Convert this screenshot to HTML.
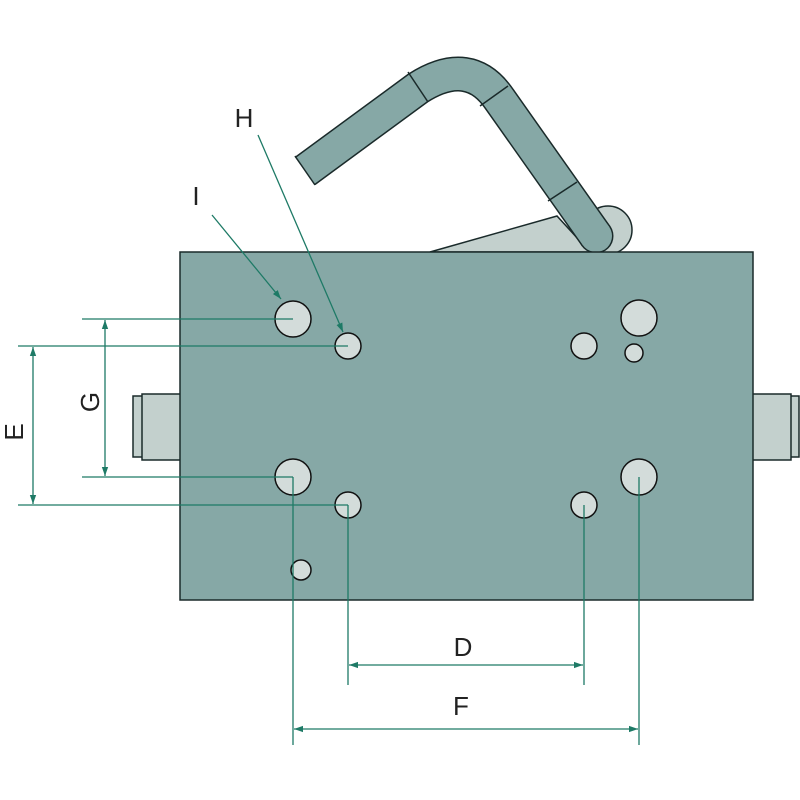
<!DOCTYPE html>
<html><head><style>body{margin:0;background:#fff}svg{display:block}</style></head><body>
<svg width="800" height="800" viewBox="0 0 800 800" xmlns="http://www.w3.org/2000/svg" font-family="Liberation Sans, sans-serif">
<defs>
<marker id="a" viewBox="0 0 10 10" refX="10" refY="5" markerWidth="9" markerHeight="9" orient="auto-start-reverse" markerUnits="userSpaceOnUse"><path d="M0,1.5 L10,5 L0,8.5 z" fill="#1e7a66"/></marker>
</defs>
<!-- pin & wedge -->
<circle cx="608" cy="230" r="24" fill="#c3d0cd" stroke="#1a2a2a" stroke-width="1.5"/>
<polygon points="430,252 557,216 590,252" fill="#c3d0cd" stroke="#1a2a2a" stroke-width="1.5"/>
<!-- handle -->
<path d="M305,171 L418,88 Q470,55 500,100 L596,236" fill="none" stroke="#1a2a2a" stroke-width="35" stroke-linejoin="round"/>
<circle cx="596" cy="236" r="17.5" fill="#1a2a2a"/>
<path d="M305,171 L418,88 Q470,55 500,100 L596,236" fill="none" stroke="#86a8a6" stroke-width="32" stroke-linejoin="round"/>
<circle cx="596" cy="236" r="16" fill="#86a8a6"/>
<line x1="295" y1="156" x2="315" y2="185" stroke="#1a2a2a" stroke-width="1.5"/>
<line x1="408" y1="72" x2="428" y2="102" stroke="#1a2a2a" stroke-width="1.5"/>
<line x1="480" y1="106" x2="508" y2="86" stroke="#1a2a2a" stroke-width="1.5"/>
<line x1="548" y1="201" x2="577" y2="182" stroke="#1a2a2a" stroke-width="1.5"/>
<!-- side bosses -->
<rect x="133" y="396" width="12" height="61" fill="#c3d0cd" stroke="#1a2a2a" stroke-width="1.5"/>
<rect x="142" y="394" width="40" height="66" fill="#c3d0cd" stroke="#1a2a2a" stroke-width="1.5"/>
<rect x="787" y="396" width="12" height="61" fill="#c3d0cd" stroke="#1a2a2a" stroke-width="1.5"/>
<rect x="751" y="394" width="40" height="66" fill="#c3d0cd" stroke="#1a2a2a" stroke-width="1.5"/>
<!-- block -->
<rect x="180" y="252" width="573" height="348" fill="#86a8a6" stroke="#1a2a2a" stroke-width="1.5"/>
<g fill="#d3dcda" stroke="#111" stroke-width="1.5">
<circle cx="293" cy="319" r="18"/><circle cx="348" cy="346" r="13"/>
<circle cx="293" cy="477" r="18"/><circle cx="348" cy="505" r="13"/>
<circle cx="301" cy="570" r="10"/><circle cx="639" cy="318" r="18"/>
<circle cx="584" cy="346" r="13"/><circle cx="634" cy="353" r="9"/>
<circle cx="639" cy="477" r="18"/><circle cx="584" cy="505" r="13"/>
</g>
<!-- dims -->
<g stroke="#1e7a66" stroke-width="1.3" fill="none">
<line x1="82" y1="319" x2="293" y2="319"/><line x1="18" y1="346" x2="348" y2="346"/>
<line x1="82" y1="477" x2="293" y2="477"/><line x1="18" y1="505" x2="348" y2="505"/>
<line x1="293" y1="477" x2="293" y2="745"/><line x1="348" y1="505" x2="348" y2="685"/>
<line x1="584" y1="505" x2="584" y2="685"/><line x1="639" y1="477" x2="639" y2="745"/>
<line x1="105" y1="320" x2="105" y2="476" marker-start="url(#a)" marker-end="url(#a)"/>
<line x1="33" y1="347" x2="33" y2="504" marker-start="url(#a)" marker-end="url(#a)"/>
<line x1="349" y1="665" x2="583" y2="665" marker-start="url(#a)" marker-end="url(#a)"/>
<line x1="294" y1="729" x2="638" y2="729" marker-start="url(#a)" marker-end="url(#a)"/>
<line x1="258" y1="135" x2="343" y2="332" marker-end="url(#a)"/>
<line x1="212" y1="215" x2="281" y2="299" marker-end="url(#a)"/>
</g>
<g font-size="26" fill="#222" text-anchor="middle">
<text x="244" y="127">H</text><text x="196" y="205">I</text>
<text x="463" y="656">D</text><text x="461" y="715">F</text>
<text transform="translate(99,402) rotate(-90)">G</text>
<text transform="translate(23,432) rotate(-90)">E</text>
</g>
</svg>
</body></html>
